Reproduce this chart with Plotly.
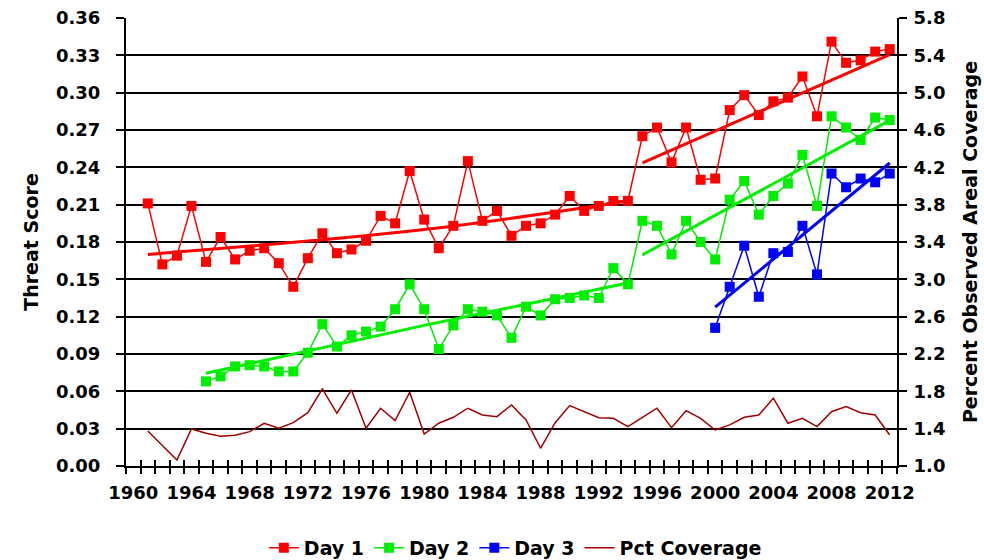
import plotly.graph_objects as go

# ---------------- data ----------------
years_d1 = list(range(1961, 2013))
day1 = [0.211, 0.162, 0.169, 0.209, 0.164, 0.184, 0.166, 0.173, 0.175, 0.163,
        0.144, 0.167, 0.187, 0.171, 0.174, 0.181, 0.201, 0.195, 0.237, 0.198,
        0.175, 0.193, 0.245, 0.197, 0.205, 0.185, 0.193, 0.195, 0.202, 0.217,
        0.205, 0.209, 0.213, 0.213, 0.265, 0.272, 0.244, 0.272, 0.230, 0.231,
        0.286, 0.298, 0.282, 0.293, 0.296, 0.313, 0.281, 0.341, 0.324, 0.326,
        0.333, 0.335]

years_d2 = list(range(1965, 2013))
day2 = [0.068, 0.072, 0.080, 0.081, 0.080, 0.076, 0.076, 0.091, 0.114, 0.096,
        0.105, 0.108, 0.112, 0.126, 0.146, 0.126, 0.094, 0.113, 0.126, 0.124,
        0.121, 0.103, 0.128, 0.121, 0.134, 0.135, 0.137, 0.135, 0.159, 0.146,
        0.197, 0.193, 0.170, 0.197, 0.180, 0.166, 0.214, 0.229, 0.202, 0.217,
        0.227, 0.250, 0.209, 0.281, 0.272, 0.262, 0.280, 0.278]

years_d3 = list(range(2000, 2013))
day3 = [0.111, 0.144, 0.177, 0.136, 0.171, 0.172, 0.193, 0.154, 0.235, 0.224,
        0.231, 0.228, 0.235]

years_pct = list(range(1961, 2013))
pct_cov = [1.375, 1.222, 1.064, 1.397, 1.350, 1.320, 1.330, 1.368, 1.458, 1.404,
           1.464, 1.571, 1.826, 1.565, 1.815, 1.404, 1.619, 1.486, 1.790, 1.343,
           1.458, 1.522, 1.619, 1.547, 1.529, 1.654, 1.493, 1.190, 1.464, 1.647,
           1.582, 1.518, 1.511, 1.422, 1.522, 1.619, 1.411, 1.593, 1.511, 1.386,
           1.440, 1.522, 1.547, 1.726, 1.458, 1.511, 1.422, 1.582, 1.636, 1.571,
           1.547, 1.332]

# trend lines
d1_trend_a_x = [1961, 1980, 1994]
d1_trend_a_y = [0.170, 0.190, 0.213]
d1_trend_b_x = [1995, 2012]
d1_trend_b_y = [0.2435, 0.3306]
d2_trend_a_x = [1965, 1980, 1994]
d2_trend_a_y = [0.0745, 0.113, 0.147]
d2_trend_b_x = [1995, 2012]
d2_trend_b_y = [0.1697, 0.2777]
d3_trend_x = [2000, 2012]
d3_trend_y = [0.1276, 0.2435]

x_label_years = list(range(1960, 2013, 4))
x_cat_edges = [y - 0.5 for y in range(1960, 2014)]
left_ticks = [i * 0.03 for i in range(13)]
right_ticks = [1.0 + i * 0.4 for i in range(13)]

# ---------------- style ----------------
RED = "#FF0000"
GREEN = "#00EE00"
BLUE = "#0000FF"
DARKRED = "#A00000"
FONT = "DejaVu Sans, Liberation Sans, Arial, sans-serif"
tick_font = dict(family=FONT, size=18, color="black", weight="bold")
title_font = dict(family=FONT, size=19, color="black", weight="bold")

fig = go.Figure()

def series(x, y, color, name, rank):
    fig.add_trace(go.Scatter(
        x=x, y=y, name=name, mode="lines+markers", legendrank=rank,
        line=dict(color=color, width=1.5),
        marker=dict(symbol="square", size=10, color=color),
    ))

def trend(x, y, color, shape="linear"):
    fig.add_trace(go.Scatter(
        x=x, y=y, mode="lines", showlegend=False, hoverinfo="skip",
        line=dict(color=color, width=3, shape=shape),
    ))

fig.add_trace(go.Scatter(
    x=years_pct, y=pct_cov, name="Pct Coverage", mode="lines", legendrank=4,
    line=dict(color=DARKRED, width=1.5), yaxis="y2",
))

trend(d1_trend_a_x, d1_trend_a_y, RED, "spline")
trend(d1_trend_b_x, d1_trend_b_y, RED)
trend(d2_trend_a_x, d2_trend_a_y, GREEN, "spline")
trend(d2_trend_b_x, d2_trend_b_y, GREEN)
trend(d3_trend_x, d3_trend_y, BLUE)

series(years_d1, day1, RED, "Day 1", 1)
series(years_d2, day2, GREEN, "Day 2", 2)
series(years_d3, day3, BLUE, "Day 3", 3)

# invisible helper trace so the overlay x axis (inner tick halves) is drawn
fig.add_trace(go.Scatter(x=[1960], y=[0], xaxis="x2", mode="markers",
                         marker=dict(opacity=0), showlegend=False, hoverinfo="skip"))

fig.update_layout(
    width=984, height=560,
    margin=dict(l=126, r=87, t=18, b=94, autoexpand=False),
    plot_bgcolor="white", paper_bgcolor="white",
    font=dict(family=FONT, color="black"),
    xaxis=dict(
        range=[1959.5, 2012.5], tickmode="array", tickvals=x_label_years,
        ticks="", ticklen=0, tickfont=tick_font, ticklabelstandoff=9,
        showgrid=False, zeroline=False, automargin=False,
        showline=True, linecolor="black", linewidth=2,
        minor=dict(tickmode="array", tickvals=x_cat_edges, ticks="outside",
                   ticklen=6, tickwidth=1.5, tickcolor="black", showgrid=False),
    ),
    xaxis2=dict(
        overlaying="x", matches="x", anchor="y", side="bottom",
        tickmode="array", tickvals=x_cat_edges, ticks="inside", ticklen=6,
        tickwidth=1.5, tickcolor="black", showticklabels=False, automargin=False,
        showgrid=False, zeroline=False, showline=False,
    ),
    yaxis=dict(
        range=[0, 0.36], tickmode="array", tickvals=left_ticks, tickformat=".2f",
        ticks="outside", ticklen=8, tickwidth=1.5, tickcolor="black",
        tickfont=tick_font, ticklabelstandoff=12, automargin=False,
        showgrid=True, gridcolor="black", gridwidth=1.5, zeroline=False,
        showline=True, linecolor="black", linewidth=2,
        title=dict(text="Threat Score", font=title_font, standoff=12),
    ),
    yaxis2=dict(
        range=[1.0, 5.8], tickmode="array", tickvals=right_ticks, tickformat=".1f",
        overlaying="y", side="right", anchor="x", automargin=False,
        ticks="outside", ticklen=8, tickwidth=1.5, tickcolor="black",
        tickfont=tick_font, ticklabelstandoff=3,
        showgrid=False, zeroline=False,
        showline=True, linecolor="black", linewidth=2,
        title=dict(text="Percent Observed Areal Coverage", font=title_font, standoff=19),
    ),
    legend=dict(
        orientation="h", x=0.505, xanchor="center", y=-0.183, yanchor="middle",
        font=dict(family=FONT, size=19, color="black", weight="bold"),
        itemwidth=30, traceorder="normal", bgcolor="rgba(0,0,0,0)",
    ),
    showlegend=True,
)

fig.write_html("out.html")
